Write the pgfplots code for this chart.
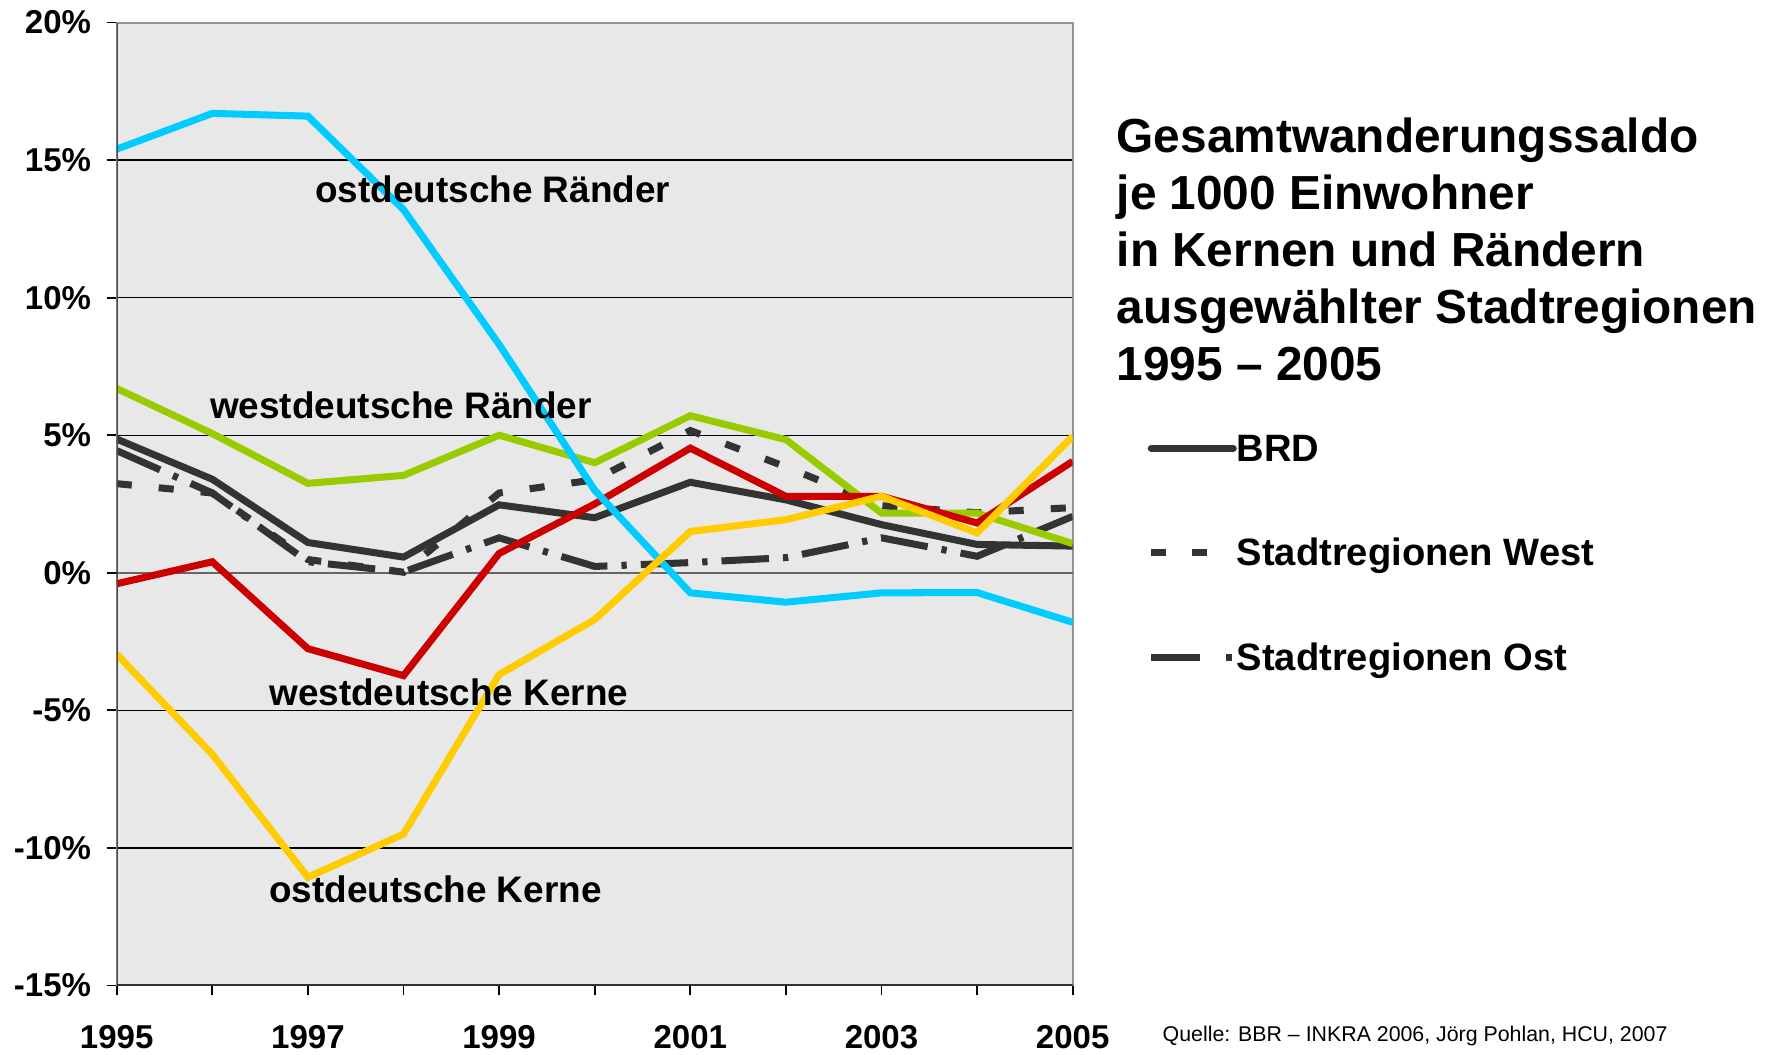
\documentclass[border=0pt]{standalone}
\usepackage{fontspec}
\setmainfont{Liberation Sans}
\usepackage{pgfplots}
\pgfplotsset{compat=1.18}
\definecolor{ccyan}{HTML}{00CCFF}
\definecolor{cgreen}{HTML}{99CC00}
\definecolor{cred}{HTML}{CC0000}
\definecolor{cyellow}{HTML}{FFCC00}
\definecolor{cdark}{HTML}{333333}
\definecolor{cbg}{HTML}{E8E8E8}
\begin{document}
\begin{tikzpicture}
\path[use as bounding box] (0,0) rectangle (17.76cm,10.54cm);
\begin{axis}[
  at={(1.167cm,0.686cm)}, anchor=south west,
  scale only axis, width=9.56cm, height=9.628cm,
  xmin=1995, xmax=2005, ymin=-15, ymax=20,
  axis background/.style={fill=cbg},
  axis line style={draw=gray!85, line width=0.6pt},
  tick align=outside, xtick pos=left, ytick pos=left,
  major tick length=0.1cm,
  tick style={black, line width=0.5pt},
  xtick={1995,1996,...,2005},
  xticklabels={1995,,1997,,1999,,2001,,2003,,2005},
  ytick={-15,-10,-5,5,10,15,20},
  yticklabels={-15\%,-10\%,-5\%,5\%,10\%,15\%,20\%},
  extra y ticks={0}, extra y tick labels={0\%},
  extra y tick style={major grid style={gray!80!black, line width=0.5pt}},
  ymajorgrids,
  major grid style={black, line width=0.4pt},
  ticklabel style={font=\fontsize{9.4}{11}\selectfont\bfseries},
  xticklabel style={anchor=base, inner sep=0pt, yshift=-0.53cm},
  yticklabel style={anchor=east, inner sep=0pt, xshift=-0.15cm},
  legend style={draw=none, fill=none, inner sep=0pt,
    at={(rel axis cs:1,1)}, anchor=north west, xshift=0.743cm, yshift=-4.08cm,
    font=\fontsize{10.85}{13}\selectfont\bfseries,
    row sep=0.645cm,
    nodes={inner sep=0pt, text height=0.3cm, text depth=0.1cm},
    /tikz/every even column/.append style={column sep=0.13cm}},
  legend cell align=left,
  every axis plot/.append style={line width=2pt},
]
% BRD
\addplot[cdark, solid, legend image code/.code={\draw[cdark, line width=2pt, line cap=round] (0cm,0.03cm) -- (0.82cm,0.03cm);}]
  coordinates {(1995,4.86) (1996,3.4) (1997,1.1) (1998,0.57) (1999,2.47) (2000,2.0) (2001,3.29) (2002,2.65) (2003,1.75) (2004,1.03) (2005,0.97)};
\addlegendentry{BRD}
% Stadtregionen West
\addplot[cdark, dash pattern=on 4.3pt off 7.7pt, legend image code/.code={\draw[cdark, line width=2pt, dash pattern=on 4.1pt off 7.6pt] (0cm,0.03cm) -- (0.82cm,0.03cm);}]
  coordinates {(1995,3.24) (1996,2.9) (1997,0.48) (1998,0.02) (1999,2.9) (2000,3.38) (2001,5.17) (2002,3.85) (2003,2.44) (2004,2.18) (2005,2.37)};
\addlegendentry{Stadtregionen West}
% Stadtregionen Ost
\addplot[cdark, dash pattern=on 13.5pt off 4pt on 1.5pt off 4pt, legend image code/.code={\draw[cdark, line width=2pt, dash pattern=on 14pt off 7.4pt on 1.6pt off 5pt] (0cm,0.03cm) -- (0.82cm,0.03cm);}]
  coordinates {(1995,4.44) (1996,2.9) (1997,0.4) (1998,0.03) (1999,1.27) (2000,0.23) (2001,0.37) (2002,0.55) (2003,1.27) (2004,0.6) (2005,2.05)};
\addlegendentry{Stadtregionen Ost}
% westdeutsche Raender
\addplot[cgreen, forget plot]
  coordinates {(1995,6.7) (1996,5.06) (1997,3.25) (1998,3.54) (1999,5.0) (2000,4.0) (2001,5.71) (2002,4.84) (2003,2.17) (2004,2.17) (2005,1.06)};
% westdeutsche Kerne
\addplot[cred, forget plot]
  coordinates {(1995,-0.4) (1996,0.4) (1997,-2.76) (1998,-3.74) (1999,0.7) (2000,2.5) (2001,4.53) (2002,2.78) (2003,2.78) (2004,1.81) (2005,4.05)};
% ostdeutsche Raender
\addplot[ccyan, forget plot]
  coordinates {(1995,15.4) (1996,16.7) (1997,16.6) (1998,13.2) (1999,8.3) (2000,3.0) (2001,-0.73) (2002,-1.07) (2003,-0.73) (2004,-0.72) (2005,-1.8)};
% ostdeutsche Kerne
\addplot[cyellow, forget plot]
  coordinates {(1995,-2.96) (1996,-6.6) (1997,-11.07) (1998,-9.5) (1999,-3.7) (2000,-1.7) (2001,1.5) (2002,1.93) (2003,2.78) (2004,1.45) (2005,4.96)};
% axis lines
\draw[gray!60!black, line width=0.7pt] (rel axis cs:0,0) -- (rel axis cs:0,1);
\draw[black!80, line width=0.9pt] (rel axis cs:0,0) -- (rel axis cs:1,0);
% annotations
\begin{scope}[every node/.style={font=\fontsize{10.5}{12}\selectfont\bfseries, anchor=base west, inner sep=0pt}]
\node at (axis cs:1997.07,13.46) {ostdeutsche Ränder};
\node at (axis cs:1995.97,5.6) {westdeutsche Ränder};
\node at (axis cs:1996.59,-4.81) {westdeutsche Kerne};
\node at (axis cs:1996.59,-11.98) {ostdeutsche Kerne};
\end{scope}
\end{axis}
\begin{scope}[every node/.style={font=\fontsize{13.6}{16}\selectfont\bfseries, anchor=base west, inner sep=0pt}]
\node at (11.16cm,9.01cm) {Gesamtwanderungssaldo};
\node at (11.16cm,8.44cm) {je 1000 Einwohner};
\node at (11.16cm,7.87cm) {in Kernen und Rändern};
\node at (11.16cm,7.30cm) {ausgewählter Stadtregionen};
\node at (11.16cm,6.73cm) {1995 – 2005};
\end{scope}
\node[font=\fontsize{6.07}{7}\selectfont, anchor=base west, inner sep=0pt] at (11.62cm,0.13cm) {Quelle: BBR – INKRA 2006, Jörg Pohlan, HCU, 2007};
\end{tikzpicture}
\end{document}
